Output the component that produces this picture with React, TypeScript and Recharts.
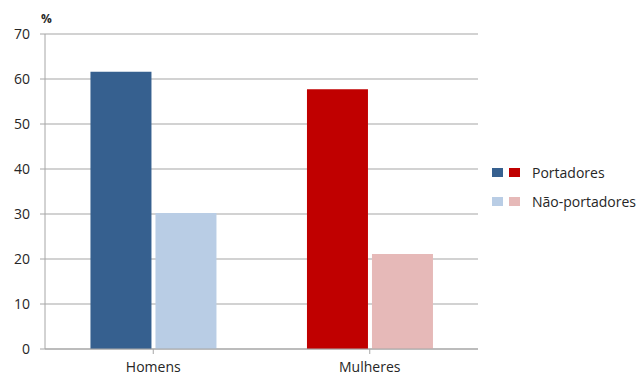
import React from 'react';
import { BarChart, Bar, XAxis, YAxis, CartesianGrid, Cell, Legend } from 'recharts';

// Share (%) of carriers vs. non-carriers by sex
const categories = ['Homens', 'Mulheres'];
const portadores = [61.6, 57.7];
const naoPortadores = [30.2, 21.1];
const yTicks = [0, 10, 20, 30, 40, 50, 60, 70];
const seriesNames = ['Portadores', 'Não-portadores'];

// One colour per category for each series (blue for men, red for women)
const portadoresColors = ['#36608F', '#C00000'];
const naoPortadoresColors = ['#B9CDE5', '#E6B9B8'];

const data = categories.map((name, i) => ({
  name,
  portadores: portadores[i],
  naoPortadores: naoPortadores[i],
}));

const FONT = '"Open Sans", sans-serif';
const GRID = '#A6A6A6';
const TEXT = '#262626';

const legendRows = [
  { label: seriesNames[0], colors: portadoresColors },
  { label: seriesNames[1], colors: naoPortadoresColors },
];

const LegendContent = () => (
  <div style={{ fontFamily: FONT, fontSize: 14, color: TEXT }}>
    {legendRows.map((row) => (
      <div
        key={row.label}
        style={{ display: 'flex', alignItems: 'center', height: 29 }}
      >
        {row.colors.map((c) => (
          <span
            key={c}
            style={{
              display: 'inline-block',
              width: 11,
              height: 9,
              background: c,
              marginRight: 6,
            }}
          />
        ))}
        <span style={{ marginLeft: 6 }}>{row.label}</span>
      </div>
    ))}
  </div>
);

export default function App() {
  return (
    <div
      style={{
        position: 'absolute',
        left: 0,
        top: 0,
        width: 641,
        height: 376,
        background: '#fff',
      }}
    >
      <div
        style={{
          position: 'absolute',
          left: 41,
          top: 10,
          fontFamily: FONT,
          fontSize: 12,
          fontWeight: 700,
          color: TEXT,
        }}
      >
        %
      </div>
      <BarChart
        width={641}
        height={376}
        data={data}
        margin={{ top: 34, right: 163, left: 0, bottom: 0 }}
        barCategoryGap="21%"
        barGap={4}
      >
        <CartesianGrid vertical={false} stroke={GRID} strokeWidth={1.2} />
        <XAxis
          dataKey="name"
          height={27}
          axisLine={{ stroke: GRID }}
          tickLine={{ stroke: GRID }}
          tickSize={5}
          tickMargin={8}
          tick={{ fontFamily: FONT, fontSize: 14, fill: TEXT }}
        />
        <YAxis
          width={45}
          domain={[0, 70]}
          ticks={yTicks}
          interval={0}
          axisLine={{ stroke: GRID }}
          tickLine={{ stroke: GRID }}
          tickSize={5}
          tickMargin={10}
          tick={{ fontFamily: FONT, fontSize: 14, fill: TEXT }}
        />
        <Legend
          layout="vertical"
          verticalAlign="middle"
          align="center"
          content={<LegendContent />}
          wrapperStyle={{ left: 492, top: 158, width: 150, right: 'auto' }}
        />
        <Bar dataKey="portadores" name={seriesNames[0]} isAnimationActive={false}>
          {data.map((d, i) => (
            <Cell key={d.name} fill={portadoresColors[i]} />
          ))}
        </Bar>
        <Bar dataKey="naoPortadores" name={seriesNames[1]} isAnimationActive={false}>
          {data.map((d, i) => (
            <Cell key={d.name} fill={naoPortadoresColors[i]} />
          ))}
        </Bar>
      </BarChart>
    </div>
  );
}
